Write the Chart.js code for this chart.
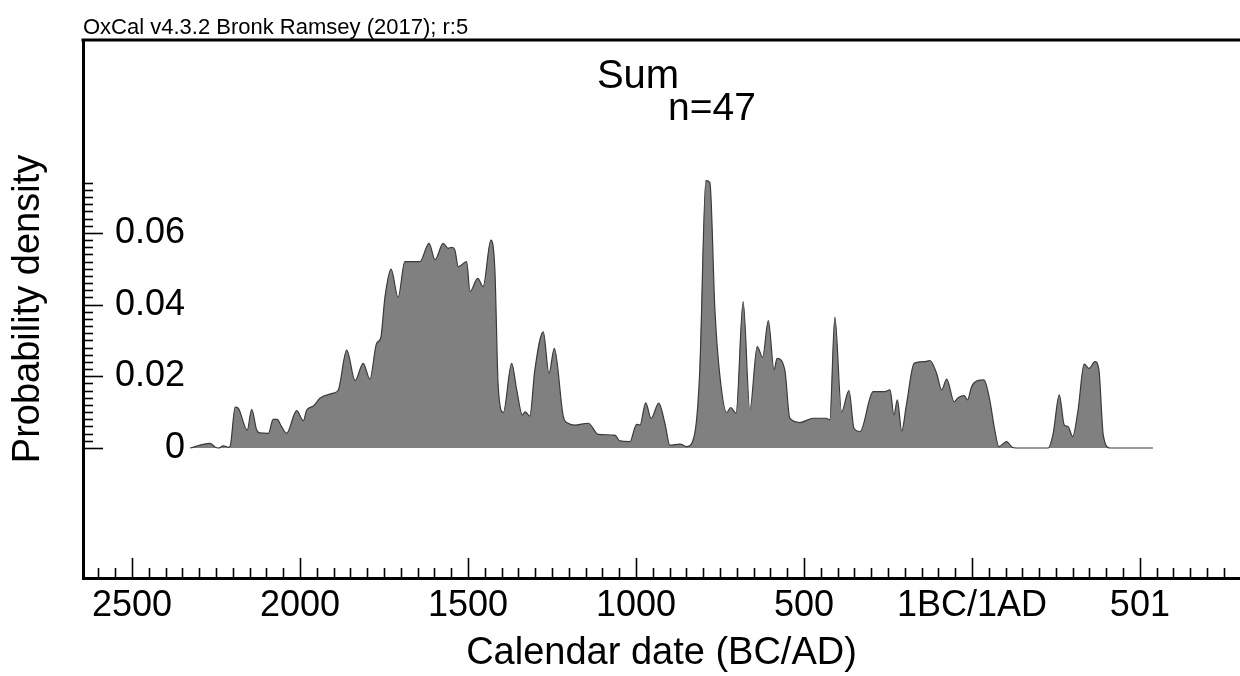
<!DOCTYPE html>
<html>
<head>
<meta charset="utf-8">
<title>Sum n=47</title>
<script src="https://cdn.jsdelivr.net/npm/chart.js@4.4.0/dist/chart.umd.min.js"></script>
<style>
  html, body { margin: 0; padding: 0; background: #fff; }
  #wrap { width: 1240px; height: 676px; }
</style>
</head>
<body>
<div id="wrap"><canvas id="chart" width="1240" height="676"></canvas></div>
<script>
const years = [
  -2327, -2268, -2253, -2243, -2228, -2213, -2208, -2193, -2184, -2157,
  -2144, -2129, -2119, -2094, -2080, -2068, -2055, -2040, -2010, -1990,
  -1980, -1960, -1941, -1901, -1886, -1861, -1836, -1812, -1792, -1772,
  -1760, -1747, -1729, -1708, -1688, -1643, -1616, -1598, -1574, -1559,
  -1549, -1539, -1529, -1504, -1494, -1471, -1455, -1432, -1420, -1410,
  -1395, -1370, -1355, -1338, -1330, -1316, -1301, -1276, -1259, -1243,
  -1216, -1202, -1182, -1142, -1112, -1063, -1048, -1018, -998, -988,
  -971, -955, -932, -914, -899, -869, -849, -825, -810, -792,
  -780, -765, -750, -730, -718, -702, -681, -661, -639, -623,
  -606, -589, -580, -557, -542, -512, -472, -433, -423, -408,
  -388, -366, -351, -333, -294, -259, -244, -232, -222, -209,
  -195, -172, -140, -125, -105, -90, -75, -53, -41, -23,
  -13, -1, 17, 36, 53, 68, 80, 103, 120, 132,
  227, 242, 260, 275, 286, 300, 316, 334, 349, 366,
  378, 391, 411, 539
];
const density = [
  0, 0.0013, 0.0003, 0, 0.0006, 0.0002, 0.0005, 0.0114, 0.0111, 0.005,
  0.0108, 0.005, 0.0042, 0.0041, 0.008, 0.008, 0.006, 0.0041, 0.0104, 0.0076,
  0.0106, 0.0117, 0.0139, 0.0153, 0.0162, 0.0273, 0.0188, 0.0236, 0.0192, 0.0292,
  0.0306, 0.0422, 0.0499, 0.042, 0.052, 0.052, 0.0571, 0.0525, 0.0571, 0.0557,
  0.056, 0.0552, 0.0506, 0.052, 0.0436, 0.0473, 0.045, 0.058, 0.0497, 0.0171,
  0.0099, 0.0236, 0.0162, 0.0092, 0.0101, 0.0089, 0.0218, 0.0324, 0.0208, 0.0278,
  0.0087, 0.0069, 0.0064, 0.0069, 0.0038, 0.0036, 0.002, 0.0018, 0.0066, 0.0064,
  0.0126, 0.0083, 0.0125, 0.0069, 0.0008, 0.0011, 0.0004, 0.0041, 0.0218, 0.0746,
  0.074, 0.0385, 0.0199, 0.0099, 0.0113, 0.0097, 0.0408, 0.0106, 0.0283, 0.0253,
  0.0355, 0.0218, 0.025, 0.0218, 0.0083, 0.0071, 0.0083, 0.0083, 0.0078, 0.0365,
  0.0101, 0.016, 0.0055, 0.0046, 0.0157, 0.0157, 0.0162, 0.0092, 0.0134, 0.0048,
  0.012, 0.0236, 0.0241, 0.0244, 0.0208, 0.0162, 0.0192, 0.0129, 0.014, 0.0146,
  0.0134, 0.0171, 0.0188, 0.019, 0.0134, 0.005, 0.0004, 0.0018, 0.0002, 0,
  0, 0.0041, 0.0148, 0.0064, 0.006, 0.0032, 0.0106, 0.0234, 0.0222, 0.0241,
  0.0218, 0.0036, 0, 0
];

const xTicks = [-2500, -2000, -1500, -1000, -500, 0, 500];
const xTickLabels = ['2500', '2000', '1500', '1000', '500', '1BC/1AD', '501'];
const yTicks = [0, 0.02, 0.04, 0.06];
const yTickLabels = ['0', '0.02', '0.04', '0.06'];

const headerText = 'OxCal v4.3.2 Bronk Ramsey (2017); r:5';
const titleText = 'Sum';
const subtitleText = 'n=47';
const xTitle = 'Calendar date (BC/AD)';
const yTitle = 'Probability density';

const FONT = '"Liberation Sans", Arial, Helvetica, sans-serif';

// Rahmen oben, Tick-Striche nach innen, Beschriftungen im Plot
const oxcalDecor = {
    id: 'oxcalDecor',
    afterDraw(chart) {
        const { ctx, chartArea: a, scales: { x, y } } = chart;
        ctx.save();
        ctx.strokeStyle = '#000';
        ctx.lineWidth = 3;
        ctx.beginPath();
        ctx.moveTo(a.left - 1.5, a.top);
        ctx.lineTo(a.right, a.top);
        ctx.stroke();

        // x-Ticks alle 50 Jahre
        ctx.lineWidth = 1.6;
        for (let v = Math.ceil(x.min / 50) * 50; v <= x.max; v += 50) {
            const px = Math.round(x.getPixelForValue(v)) + 0.5;
            const len = v % 500 === 0 ? 20 : 10;
            ctx.beginPath();
            ctx.moveTo(px, a.bottom);
            ctx.lineTo(px, a.bottom - len);
            ctx.stroke();
        }
        // y-Ticks alle 0.002
        for (let i = 0; i <= 37; i++) {
            const py = Math.round(y.getPixelForValue(i * 0.002)) + 0.5;
            const len = i % 10 === 0 ? 20 : 10;
            ctx.beginPath();
            ctx.moveTo(a.left, py);
            ctx.lineTo(a.left + len, py);
            ctx.stroke();
        }

        ctx.fillStyle = '#000';
        ctx.textBaseline = 'alphabetic';
        ctx.textAlign = 'left';
        ctx.font = '22px ' + FONT;
        ctx.fillText(headerText, a.left, 34);

        ctx.textAlign = 'center';
        ctx.font = '40px ' + FONT;
        ctx.fillText(titleText, 638, 88);

        ctx.textAlign = 'left';
        ctx.font = '39px ' + FONT;
        ctx.fillText(subtitleText, 668, 120);
        ctx.restore();
    }
};

new Chart(document.getElementById('chart'), {
    type: 'line',
    data: {
        datasets: [{
            data: years.map((yr, i) => ({ x: yr, y: density[i] })),
            borderColor: '#3a3a3a',
            borderWidth: 1.2,
            backgroundColor: '#808080',
            fill: 'origin',
            pointRadius: 0,
            cubicInterpolationMode: 'monotone',
        }],
    },
    options: {
        responsive: false,
        animation: false,
        layout: { padding: { top: 40, left: 0, right: 0, bottom: 0 } },
        plugins: {
            legend: { display: false },
            tooltip: { enabled: false },
        },
        scales: {
            x: {
                type: 'linear',
                position: 'bottom',
                min: -2646,
                max: 798,
                afterBuildTicks: (scale) => { scale.ticks = xTicks.map(v => ({ value: v })); },
                afterFit: (scale) => { scale.height = 98; },
                grid: { display: false, drawTicks: false },
                border: { display: true, color: '#000', width: 3 },
                ticks: {
                    color: '#000',
                    font: { family: FONT, size: 36 },
                    padding: 6,
                    maxRotation: 0,
                    autoSkip: false,
                    callback: (v) => xTickLabels[xTicks.indexOf(v)],
                },
                title: {
                    display: true,
                    text: xTitle,
                    color: '#000',
                    font: { family: FONT, size: 38 },
                    padding: { top: 0, bottom: 0 },
                },
            },
            y: {
                type: 'linear',
                min: -0.03626,
                max: 0.1138,
                afterBuildTicks: (scale) => { scale.ticks = yTicks.map(v => ({ value: v })); },
                afterFit: (scale) => {
                    scale.width = 83;
                    scale.paddingTop = 0;
                    scale.paddingBottom = 0;
                },
                grid: { display: false, drawTicks: false },
                border: { display: true, color: '#000', width: 3 },
                ticks: {
                    color: '#000',
                    font: { family: FONT, size: 36 },
                    mirror: true,
                    crossAlign: 'far',
                    padding: 32,
                    callback: (v) => yTickLabels[yTicks.indexOf(v)],
                },
                title: {
                    display: true,
                    text: yTitle,
                    color: '#000',
                    font: { family: FONT, size: 38 },
                    padding: { top: 6, bottom: 0 },
                },
            },
        },
    },
    plugins: [oxcalDecor],
});
</script>
</body>
</html>
